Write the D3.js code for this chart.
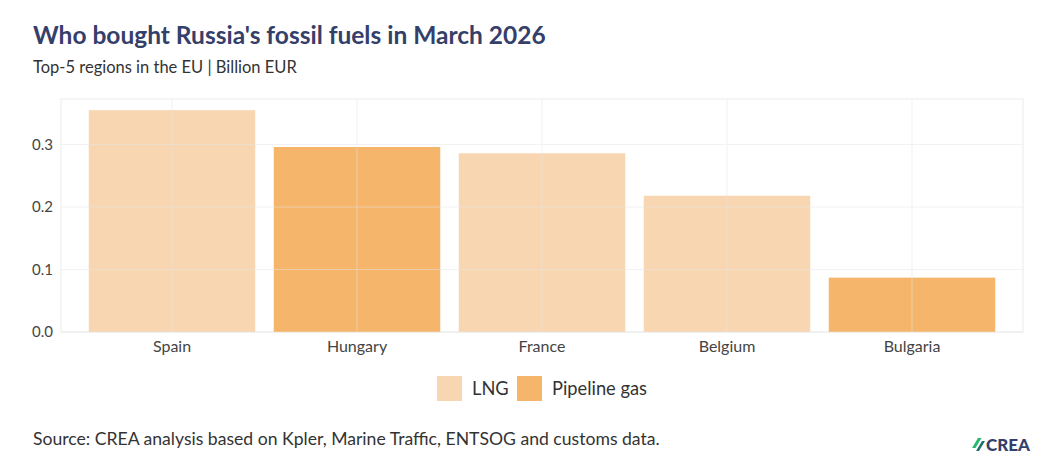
<!DOCTYPE html>
<html>
<head>
<meta charset="utf-8">
<script src="https://cdnjs.cloudflare.com/ajax/libs/d3/7.8.5/d3.min.js"></script>
<style>
  body { margin: 0; background: #fff; }
  svg { font-family: "Lato", "Noto Sans", sans-serif; }
</style>
</head>
<body>
<svg width="1062" height="464"></svg>
<script>
// data
var regions = ["Spain", "Hungary", "France", "Belgium", "Bulgaria"];
var values = [0.355, 0.296, 0.286, 0.218, 0.087];
var fuels = ["LNG", "Pipeline gas", "LNG", "LNG", "Pipeline gas"];
var legendKeys = ["LNG", "Pipeline gas"];
var yTicks = [0.0, 0.1, 0.2, 0.3];

var svg = d3.select("svg");
var m = {left: 61, right: 1023, top: 99, bottom: 332};

var x = d3.scaleBand().domain(regions).range([m.left, m.right]).paddingInner(0.1).paddingOuter(0.15);
var y = d3.scaleLinear().domain([0, 0.3728]).range([m.bottom, m.top]);
var col = d3.scaleOrdinal().domain(legendKeys).range(["#f9d6b2", "#f5b56b"]);

// title + subtitle
svg.append("text").attr("x", 33).attr("y", 44)
  .style("font-size", "24.5px").style("font-weight", "bold").style("fill", "#35406a")
  .text("Who bought Russia's fossil fuels in March 2026");
svg.append("text").attr("x", 33).attr("y", 73)
  .style("font-size", "16.5px").style("fill", "#333")
  .text("Top-5 regions in the EU | Billion EUR");

// panel border
svg.append("rect").attr("x", m.left).attr("y", m.top)
  .attr("width", m.right - m.left).attr("height", m.bottom - m.top)
  .style("fill", "none").style("stroke", "#ebebeb").style("stroke-width", 1);

// bars
svg.append("g").selectAll("rect").data(regions).enter().append("rect")
  .attr("x", function(d) { return x(d); })
  .attr("y", function(d, i) { return y(values[i]); })
  .attr("width", x.bandwidth())
  .attr("height", function(d, i) { return y(0) - y(values[i]); })
  .style("fill", function(d, i) { return col(fuels[i]); });

// grid (drawn over, faint)
var grid = svg.append("g").style("stroke", "#e6e6e6").style("stroke-width", 1).style("opacity", 0.5);
grid.selectAll(".h").data(yTicks).enter().append("line")
  .attr("x1", m.left).attr("x2", m.right)
  .attr("y1", function(d) { return y(d); }).attr("y2", function(d) { return y(d); });
grid.selectAll(".v").data(regions).enter().append("line")
  .attr("y1", m.top).attr("y2", m.bottom)
  .attr("x1", function(d) { return x(d) + x.bandwidth() / 2; })
  .attr("x2", function(d) { return x(d) + x.bandwidth() / 2; });

// axes
var yAxis = svg.append("g").attr("transform", "translate(" + m.left + ",0)")
  .call(d3.axisLeft(y).tickValues(yTicks).tickFormat(d3.format(".1f")).tickSize(0).tickPadding(8));
yAxis.select(".domain").remove();
yAxis.selectAll("text").style("font-size", "15px").style("fill", "#444").style("font-family", "Lato, sans-serif");

var xAxis = svg.append("g").attr("transform", "translate(0," + m.bottom + ")")
  .call(d3.axisBottom(x).tickSize(0).tickPadding(9));
xAxis.select(".domain").remove();
xAxis.selectAll("text").style("font-size", "16px").style("fill", "#444").style("font-family", "Lato, sans-serif");

// legend
var leg = svg.append("g");
var legX = [437, 517];
legendKeys.forEach(function(k, i) {
  leg.append("rect").attr("x", legX[i]).attr("y", 376).attr("width", 25).attr("height", 25)
    .style("fill", col(k));
  leg.append("text").attr("x", legX[i] + 35).attr("y", 395)
    .style("font-size", "18.3px").style("fill", "#333").text(k);
});

// source
svg.append("text").attr("x", 33).attr("y", 445)
  .style("font-size", "17.6px").style("fill", "#333")
  .text("Source: CREA analysis based on Kpler, Marine Traffic, ENTSOG and customs data.");

// logo
var logo = svg.append("g").attr("transform", "translate(972,451)");
logo.append("path").attr("d", "M0,-3 L6,-13 L9.5,-13 L3.5,-3 Z").style("fill", "#2bb673");
logo.append("path").attr("d", "M4,0 L10,-10 L13,-10 L7,0 Z").style("fill", "#1d6f6a");
logo.append("text").attr("x", 14).attr("y", 0)
  .style("font-size", "17px").style("font-weight", "900").style("fill", "#35406a").text("CREA");
</script>
</body>
</html>
